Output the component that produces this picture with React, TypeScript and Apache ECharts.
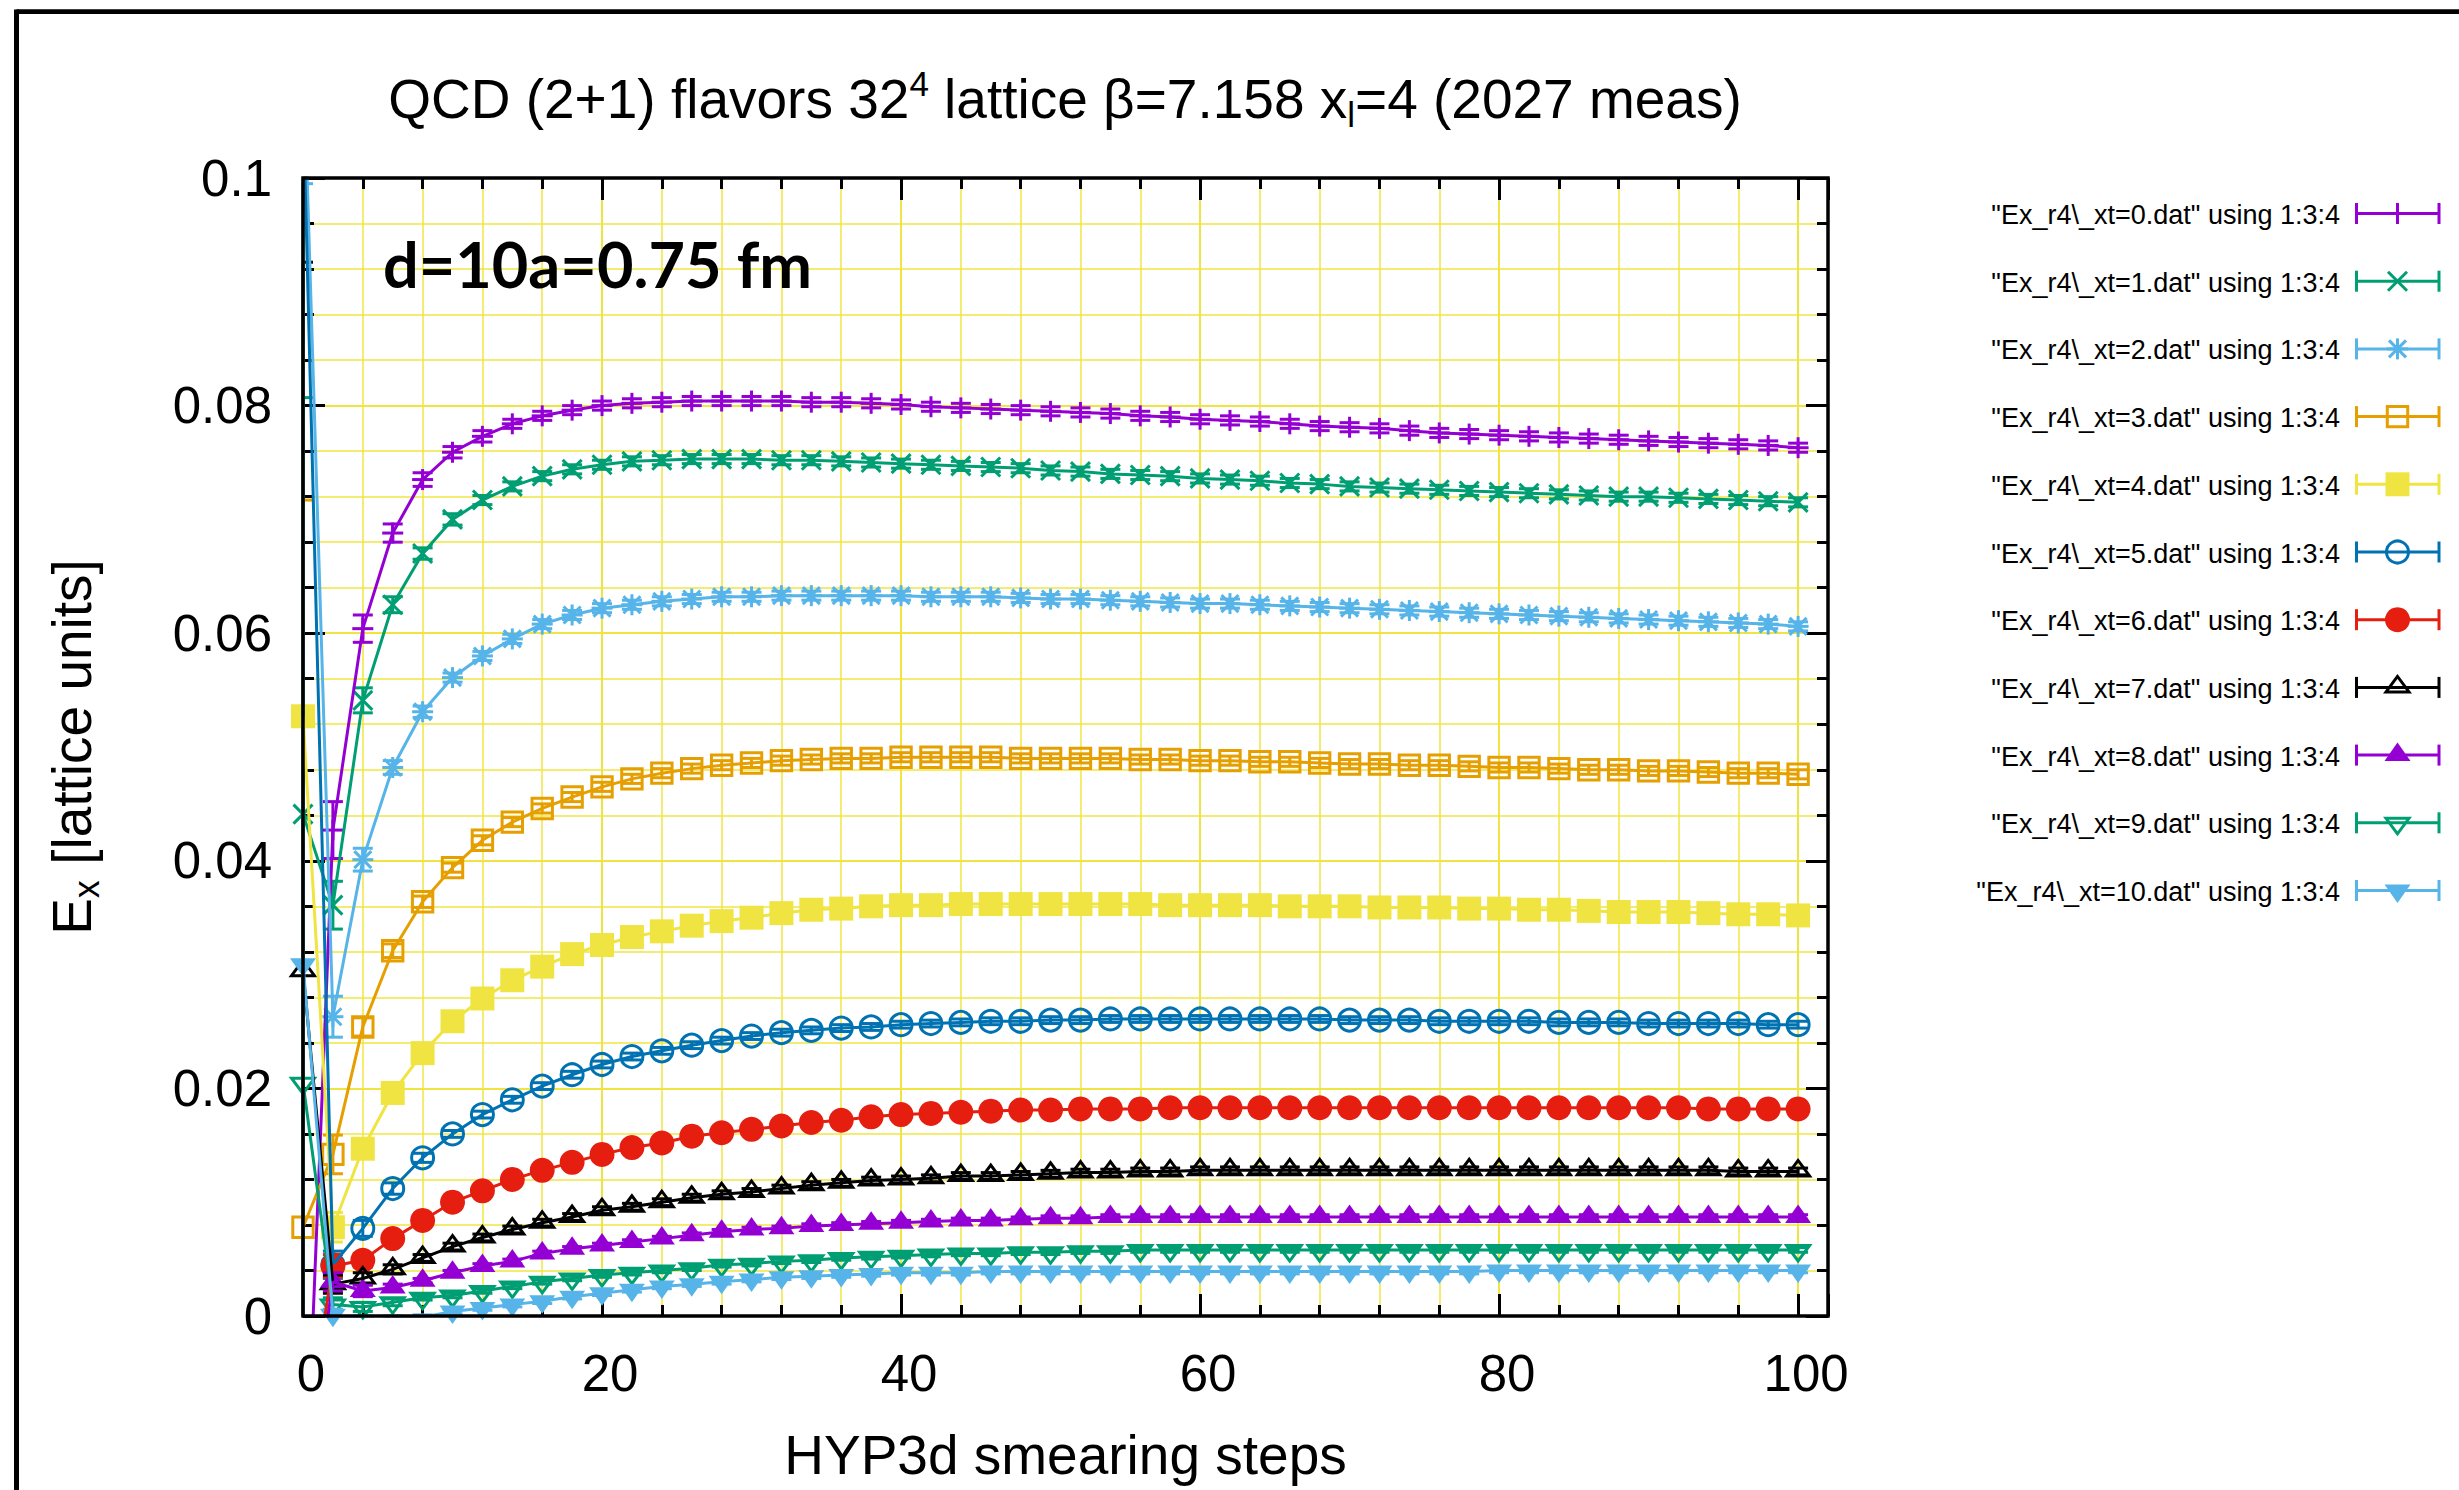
import React, { useEffect, useRef } from "react";
import * as echarts from "echarts";

// ---------------- data ----------------
const STEPS = [
  0, 2, 4, 6, 8, 10, 12, 14, 16, 18,
  20, 22, 24, 26, 28, 30, 32, 34, 36, 38,
  40, 42, 44, 46, 48, 50, 52, 54, 56, 58,
  60, 62, 64, 66, 68, 70, 72, 74, 76, 78,
  80, 82, 84, 86, 88, 90, 92, 94, 96, 98,
  100,
];

const XT0 = [
  -0.022, 0.0427, 0.0604, 0.0688, 0.0735, 0.0759, 0.0773, 0.0784, 0.0791, 0.0796,
  0.08, 0.0802, 0.0803, 0.0804, 0.0804, 0.0804, 0.0804, 0.0803, 0.0803, 0.0802,
  0.0801, 0.0799, 0.0798, 0.0797, 0.0796, 0.0795, 0.0794, 0.0793, 0.0791, 0.079,
  0.0788, 0.0787, 0.0786, 0.0784, 0.0782, 0.0781, 0.078, 0.0778, 0.0776, 0.0775,
  0.0774, 0.0773, 0.0772, 0.0771, 0.077, 0.0769, 0.0768, 0.0767, 0.0766, 0.0765,
  0.0763,
];
const XT1 = [
  0.0441, 0.0361, 0.0541, 0.0625, 0.067, 0.07, 0.0717, 0.0729, 0.0738, 0.0744,
  0.0748, 0.0751, 0.0752, 0.0753, 0.0753, 0.0753, 0.0752, 0.0752, 0.0751, 0.075,
  0.0749, 0.0748, 0.0747, 0.0746, 0.0745, 0.0743, 0.0742, 0.074, 0.0739, 0.0738,
  0.0736, 0.0735, 0.0734, 0.0732, 0.0731, 0.0729, 0.0728, 0.0727, 0.0726, 0.0725,
  0.0724, 0.0723, 0.0722, 0.0721, 0.072, 0.072, 0.0719, 0.0718, 0.0717, 0.0716,
  0.0715,
];
const XT2 = [
  0.112, 0.0263, 0.0401, 0.0482, 0.0531, 0.0561, 0.058, 0.0595, 0.0608, 0.0616,
  0.0622, 0.0625, 0.0628, 0.063, 0.0632, 0.0632, 0.0633, 0.0633, 0.0633, 0.0633,
  0.0633, 0.0632, 0.0632, 0.0632, 0.0631, 0.063, 0.063, 0.0629, 0.0628, 0.0627,
  0.0626, 0.0626, 0.0625, 0.0624, 0.0623, 0.0622, 0.0621, 0.062, 0.0619, 0.0618,
  0.0617, 0.0616, 0.0615, 0.0614, 0.0613, 0.0612, 0.0611, 0.061, 0.0609, 0.0608,
  0.0606,
];
const XT3 = [
  0.0078, 0.0142, 0.0254, 0.0321, 0.0364, 0.0394, 0.0418, 0.0434, 0.0446, 0.0456,
  0.0465, 0.0472, 0.0477, 0.0481, 0.0484, 0.0486, 0.0488, 0.0489, 0.049, 0.049,
  0.0491, 0.0491, 0.0491, 0.0491, 0.049, 0.049, 0.049, 0.049, 0.0489, 0.0489,
  0.0488, 0.0488, 0.0487, 0.0487, 0.0486, 0.0485, 0.0485, 0.0484, 0.0484, 0.0483,
  0.0482, 0.0482, 0.0481, 0.048, 0.048, 0.0479, 0.0479, 0.0478, 0.0477, 0.0477,
  0.0476,
];
const XT4 = [
  0.0527, 0.0078, 0.0147, 0.0196, 0.0231, 0.0259, 0.0279, 0.0295, 0.0307, 0.0318,
  0.0326, 0.0333, 0.0338, 0.0343, 0.0347, 0.035, 0.0354, 0.0357, 0.0358, 0.036,
  0.0361, 0.0361, 0.0362, 0.0362, 0.0362, 0.0362, 0.0362, 0.0362, 0.0362, 0.0361,
  0.0361, 0.0361, 0.0361, 0.036, 0.036, 0.036, 0.0359, 0.0359, 0.0359, 0.0358,
  0.0358, 0.0357, 0.0357, 0.0356, 0.0355, 0.0355, 0.0355, 0.0354, 0.0353, 0.0353,
  0.0352,
];
const XT5 = [
  0.107, 0.0045, 0.0077, 0.0112, 0.0139, 0.016, 0.0177, 0.019, 0.0202, 0.0212,
  0.0221, 0.0228, 0.0233, 0.0238, 0.0242, 0.0246, 0.0249, 0.0251, 0.0253, 0.0254,
  0.0256, 0.0257, 0.0258, 0.0259, 0.0259, 0.026, 0.026, 0.0261, 0.0261, 0.0261,
  0.0261, 0.0261, 0.0261, 0.0261, 0.0261, 0.026, 0.026, 0.026, 0.0259, 0.0259,
  0.0259, 0.0259, 0.0258, 0.0258, 0.0258, 0.0257, 0.0257, 0.0257, 0.0257, 0.0256,
  0.0256,
];
const XT6 = [
  -0.012, 0.0044, 0.0049, 0.0068, 0.0084, 0.01, 0.011, 0.012, 0.0128, 0.0135,
  0.0142, 0.0148, 0.0152, 0.0158, 0.0161, 0.0164, 0.0167, 0.017, 0.0172, 0.0175,
  0.0177, 0.0178, 0.0179, 0.018, 0.0181, 0.0181, 0.0182, 0.0182, 0.0182, 0.0183,
  0.0183, 0.0183, 0.0183, 0.0183, 0.0183, 0.0183, 0.0183, 0.0183, 0.0183, 0.0183,
  0.0183, 0.0183, 0.0183, 0.0183, 0.0183, 0.0183, 0.0183, 0.0182, 0.0182, 0.0182,
  0.0182,
];
const XT7 = [
  0.0303, 0.0028, 0.0033, 0.0041, 0.0051, 0.0061, 0.0069, 0.0076, 0.0082, 0.0087,
  0.0093, 0.0096, 0.01, 0.0104, 0.0107, 0.0109, 0.0112, 0.0115, 0.0117, 0.0119,
  0.012, 0.0121, 0.0123, 0.0123, 0.0124, 0.0125, 0.0126, 0.0126, 0.0127, 0.0127,
  0.0128, 0.0128, 0.0128, 0.0128, 0.0128, 0.0128, 0.0128, 0.0128, 0.0128, 0.0128,
  0.0128, 0.0128, 0.0128, 0.0128, 0.0128, 0.0128, 0.0128, 0.0128, 0.0127, 0.0127,
  0.0127,
];
const XT8 = [
  -0.015, 0.003, 0.0022, 0.0025, 0.0031, 0.0038, 0.0044, 0.0048, 0.0055, 0.0059,
  0.0062, 0.0065, 0.0068, 0.0071, 0.0074, 0.0076, 0.0077, 0.0079, 0.008, 0.0081,
  0.0082, 0.0083, 0.0084, 0.0084, 0.0085, 0.0086, 0.0086, 0.0087, 0.0087, 0.0087,
  0.0087, 0.0087, 0.0087, 0.0087, 0.0087, 0.0087, 0.0087, 0.0087, 0.0087, 0.0087,
  0.0087, 0.0087, 0.0087, 0.0087, 0.0087, 0.0087, 0.0087, 0.0087, 0.0087, 0.0087,
  0.0087,
];
const XT9 = [
  0.0205, 0.001, 0.0008, 0.0012, 0.0016, 0.0018, 0.0022, 0.0026, 0.003, 0.0033,
  0.0036, 0.0038, 0.004, 0.0042, 0.0045, 0.0046, 0.0048, 0.0049, 0.0051, 0.0052,
  0.0053, 0.0054, 0.0055, 0.0055, 0.0056, 0.0056, 0.0057, 0.0057, 0.0058, 0.0058,
  0.0058, 0.0058, 0.0058, 0.0058, 0.0058, 0.0058, 0.0058, 0.0058, 0.0058, 0.0058,
  0.0058, 0.0058, 0.0058, 0.0058, 0.0058, 0.0058, 0.0058, 0.0058, 0.0058, 0.0058,
  0.0058,
];
const XT10 = [
  0.0309, 0.0001, -0.0004, -0.0003, -0.0001, 0.0004, 0.0007, 0.001, 0.0013, 0.0017,
  0.002, 0.0023, 0.0026, 0.0028, 0.003, 0.0032, 0.0034, 0.0035, 0.0036, 0.0037,
  0.0038, 0.0038, 0.0038, 0.0039, 0.0039, 0.0039, 0.0039, 0.0039, 0.0039, 0.0039,
  0.0039, 0.0039, 0.0039, 0.0039, 0.0039, 0.0039, 0.0039, 0.0039, 0.0039, 0.0039,
  0.004, 0.004, 0.004, 0.004, 0.004, 0.004, 0.004, 0.004, 0.004, 0.004,
  0.004,
];

// error bars (column 4)
const ERR0 = [
  0.004, 0.0025, 0.0012, 0.0008, 0.0006, 0.0005, 0.0005, 0.0004, 0.0004, 0.0004,
  0.0004, 0.0004, 0.0004, 0.0004, 0.0004, 0.0004, 0.0004, 0.0004, 0.0004, 0.0004,
  0.0004, 0.0004, 0.0004, 0.0004, 0.0004, 0.0004, 0.0004, 0.0004, 0.0004, 0.0004,
  0.0004, 0.0004, 0.0004, 0.0004, 0.0004, 0.0004, 0.0004, 0.0004, 0.0004, 0.0004,
  0.0004, 0.0004, 0.0004, 0.0004, 0.0004, 0.0004, 0.0004, 0.0004, 0.0004, 0.0004,
  0.0004,
];
const ERR1 = [
  0.06, 0.0021, 0.0011, 0.0007, 0.0005, 0.0005, 0.0004, 0.0004, 0.0004, 0.0004,
  0.0004, 0.0004, 0.0004, 0.0004, 0.0004, 0.0004, 0.0004, 0.0004, 0.0004, 0.0004,
  0.0004, 0.0004, 0.0004, 0.0004, 0.0004, 0.0004, 0.0004, 0.0004, 0.0004, 0.0004,
  0.0004, 0.0004, 0.0004, 0.0004, 0.0004, 0.0004, 0.0004, 0.0004, 0.0004, 0.0004,
  0.0004, 0.0004, 0.0004, 0.0004, 0.0004, 0.0004, 0.0004, 0.0004, 0.0004, 0.0004,
  0.0004,
];
const ERR2 = [
  0.005, 0.0018, 0.001, 0.0006, 0.0005, 0.0004, 0.0004, 0.0004, 0.0004, 0.0004,
  0.0004, 0.0004, 0.0004, 0.0004, 0.0004, 0.0004, 0.0004, 0.0004, 0.0004, 0.0004,
  0.0004, 0.0004, 0.0004, 0.0004, 0.0004, 0.0004, 0.0004, 0.0004, 0.0004, 0.0004,
  0.0004, 0.0004, 0.0004, 0.0004, 0.0004, 0.0004, 0.0004, 0.0004, 0.0004, 0.0004,
  0.0004, 0.0004, 0.0004, 0.0004, 0.0004, 0.0004, 0.0004, 0.0004, 0.0004, 0.0004,
  0.0004,
];
const ERR3 = [
  0.0639, 0.0017, 0.0008, 0.0006, 0.0005, 0.0004, 0.0004, 0.0004, 0.0004, 0.0004,
  0.0004, 0.0004, 0.0004, 0.0004, 0.0004, 0.0004, 0.0004, 0.0004, 0.0004, 0.0004,
  0.0004, 0.0004, 0.0004, 0.0004, 0.0004, 0.0004, 0.0004, 0.0004, 0.0004, 0.0004,
  0.0004, 0.0004, 0.0004, 0.0004, 0.0004, 0.0004, 0.0004, 0.0004, 0.0004, 0.0004,
  0.0004, 0.0004, 0.0004, 0.0004, 0.0004, 0.0004, 0.0004, 0.0004, 0.0004, 0.0004,
  0.0004,
];
const ERR4 = [
  0.06, 0.0013, 0.0007, 0.0005, 0.0004, 0.0003, 0.0003, 0.0003, 0.0003, 0.0003,
  0.0003, 0.0003, 0.0003, 0.0003, 0.0003, 0.0003, 0.0003, 0.0003, 0.0003, 0.0003,
  0.0003, 0.0003, 0.0003, 0.0003, 0.0003, 0.0003, 0.0003, 0.0003, 0.0003, 0.0003,
  0.0003, 0.0003, 0.0003, 0.0003, 0.0003, 0.0003, 0.0003, 0.0003, 0.0003, 0.0003,
  0.0003, 0.0003, 0.0003, 0.0003, 0.0003, 0.0003, 0.0003, 0.0003, 0.0003, 0.0003,
  0.0003,
];
const ERR5 = [
  0.005, 0.0012, 0.0007, 0.0005, 0.0004, 0.0003, 0.0003, 0.0003, 0.0003, 0.0003,
  0.0003, 0.0003, 0.0003, 0.0003, 0.0003, 0.0003, 0.0003, 0.0003, 0.0003, 0.0003,
  0.0003, 0.0003, 0.0003, 0.0003, 0.0003, 0.0003, 0.0003, 0.0003, 0.0003, 0.0003,
  0.0003, 0.0003, 0.0003, 0.0003, 0.0003, 0.0003, 0.0003, 0.0003, 0.0003, 0.0003,
  0.0003, 0.0003, 0.0003, 0.0003, 0.0003, 0.0003, 0.0003, 0.0003, 0.0003, 0.0003,
  0.0003,
];
const ERR6 = [
  0.004, 0.001, 0.0006, 0.0004, 0.0003, 0.0003, 0.0003, 0.0003, 0.0003, 0.0003,
  0.0003, 0.0003, 0.0003, 0.0003, 0.0003, 0.0003, 0.0003, 0.0003, 0.0003, 0.0003,
  0.0003, 0.0003, 0.0003, 0.0003, 0.0003, 0.0003, 0.0003, 0.0003, 0.0003, 0.0003,
  0.0003, 0.0003, 0.0003, 0.0003, 0.0003, 0.0003, 0.0003, 0.0003, 0.0003, 0.0003,
  0.0003, 0.0003, 0.0003, 0.0003, 0.0003, 0.0003, 0.0003, 0.0003, 0.0003, 0.0003,
  0.0003,
];
const ERR7 = [
  0.0623, 0.0008, 0.0005, 0.0004, 0.0003, 0.0003, 0.0003, 0.0003, 0.0003, 0.0003,
  0.0003, 0.0003, 0.0003, 0.0003, 0.0003, 0.0003, 0.0003, 0.0003, 0.0003, 0.0003,
  0.0003, 0.0003, 0.0003, 0.0003, 0.0003, 0.0003, 0.0003, 0.0003, 0.0003, 0.0003,
  0.0003, 0.0003, 0.0003, 0.0003, 0.0003, 0.0003, 0.0003, 0.0003, 0.0003, 0.0003,
  0.0003, 0.0003, 0.0003, 0.0003, 0.0003, 0.0003, 0.0003, 0.0003, 0.0003, 0.0003,
  0.0003,
];
const ERR8 = [
  0.004, 0.0008, 0.0005, 0.0003, 0.0002, 0.0002, 0.0002, 0.0002, 0.0002, 0.0002,
  0.0002, 0.0002, 0.0002, 0.0002, 0.0002, 0.0002, 0.0002, 0.0002, 0.0002, 0.0002,
  0.0002, 0.0002, 0.0002, 0.0002, 0.0002, 0.0002, 0.0002, 0.0002, 0.0002, 0.0002,
  0.0002, 0.0002, 0.0002, 0.0002, 0.0002, 0.0002, 0.0002, 0.0002, 0.0002, 0.0002,
  0.0002, 0.0002, 0.0002, 0.0002, 0.0002, 0.0002, 0.0002, 0.0002, 0.0002, 0.0002,
  0.0002,
];
const ERR9 = [
  0.0602, 0.0006, 0.0004, 0.0003, 0.0002, 0.0002, 0.0002, 0.0002, 0.0002, 0.0002,
  0.0002, 0.0002, 0.0002, 0.0002, 0.0002, 0.0002, 0.0002, 0.0002, 0.0002, 0.0002,
  0.0002, 0.0002, 0.0002, 0.0002, 0.0002, 0.0002, 0.0002, 0.0002, 0.0002, 0.0002,
  0.0002, 0.0002, 0.0002, 0.0002, 0.0002, 0.0002, 0.0002, 0.0002, 0.0002, 0.0002,
  0.0002, 0.0002, 0.0002, 0.0002, 0.0002, 0.0002, 0.0002, 0.0002, 0.0002, 0.0002,
  0.0002,
];
const ERR10 = [
  0.0686, 0.0005, 0.0004, 0.0003, 0.0002, 0.0002, 0.0002, 0.0002, 0.0002, 0.0002,
  0.0002, 0.0002, 0.0002, 0.0002, 0.0002, 0.0002, 0.0002, 0.0002, 0.0002, 0.0002,
  0.0002, 0.0002, 0.0002, 0.0002, 0.0002, 0.0002, 0.0002, 0.0002, 0.0002, 0.0002,
  0.0002, 0.0002, 0.0002, 0.0002, 0.0002, 0.0002, 0.0002, 0.0002, 0.0002, 0.0002,
  0.0002, 0.0002, 0.0002, 0.0002, 0.0002, 0.0002, 0.0002, 0.0002, 0.0002, 0.0002,
  0.0002,
];

const SERIES_NAMES = [
  '"Ex_r4\\_xt=0.dat" using 1:3:4',
  '"Ex_r4\\_xt=1.dat" using 1:3:4',
  '"Ex_r4\\_xt=2.dat" using 1:3:4',
  '"Ex_r4\\_xt=3.dat" using 1:3:4',
  '"Ex_r4\\_xt=4.dat" using 1:3:4',
  '"Ex_r4\\_xt=5.dat" using 1:3:4',
  '"Ex_r4\\_xt=6.dat" using 1:3:4',
  '"Ex_r4\\_xt=7.dat" using 1:3:4',
  '"Ex_r4\\_xt=8.dat" using 1:3:4',
  '"Ex_r4\\_xt=9.dat" using 1:3:4',
  '"Ex_r4\\_xt=10.dat" using 1:3:4',
];
const COLORS = [
  "#9400D3", "#009E73", "#56B4E9", "#E69F00", "#F0E442", "#0072B2",
  "#E51E10", "#000000", "#9400D3", "#009E73", "#56B4E9",
];
const MARKERS = ["plus", "cross", "star", "sq", "sqf", "ci", "cif", "tri", "trif", "itri", "itrif"];
const X_TICK_LABELS = [0, 20, 40, 60, 80, 100];

const VALUES = [XT0, XT1, XT2, XT3, XT4, XT5, XT6, XT7, XT8, XT9, XT10];
const ERRORS = [ERR0, ERR1, ERR2, ERR3, ERR4, ERR5, ERR6, ERR7, ERR8, ERR9, ERR10];

// ---------------- styling ----------------
const FONT = '"Liberation Sans", Arial, Helvetica, sans-serif';
const GRID_COLOR = "#F0E442";
const PLOT = { left: 303, top: 178, width: 1525, height: 1138 };
const LW = 3;

function markerEls(kind: string, cx: number, cy: number, c: string): any[] {
  const ln = (x1: number, y1: number, x2: number, y2: number) => ({
    type: "line",
    shape: { x1, y1, x2, y2 },
    style: { stroke: c, lineWidth: LW },
  });
  const open = () => ({ stroke: c, lineWidth: LW, fill: "none" });
  switch (kind) {
    case "plus":
      return [ln(cx - 10.5, cy, cx + 10.5, cy), ln(cx, cy - 10.5, cx, cy + 10.5)];
    case "cross":
      return [ln(cx - 9.5, cy - 9.5, cx + 9.5, cy + 9.5), ln(cx - 9.5, cy + 9.5, cx + 9.5, cy - 9.5)];
    case "star":
      return [
        ln(cx - 10.5, cy, cx + 10.5, cy),
        ln(cx, cy - 10.5, cx, cy + 10.5),
        ln(cx - 8.5, cy - 8.5, cx + 8.5, cy + 8.5),
        ln(cx - 8.5, cy + 8.5, cx + 8.5, cy - 8.5),
      ];
    case "sq":
      return [{ type: "rect", shape: { x: cx - 10.2, y: cy - 10.2, width: 20.4, height: 20.4 }, style: open() }];
    case "sqf":
      return [{ type: "rect", shape: { x: cx - 12, y: cy - 12, width: 24, height: 24 }, style: { fill: c } }];
    case "ci":
      return [{ type: "circle", shape: { cx, cy, r: 11 }, style: open() }];
    case "cif":
      return [{ type: "circle", shape: { cx, cy, r: 12.5 }, style: { fill: c } }];
    case "tri":
      return [{ type: "polygon", shape: { points: [[cx, cy - 11], [cx - 11.5, cy + 4.5], [cx + 11.5, cy + 4.5]] }, style: open() }];
    case "trif":
      return [{ type: "polygon", shape: { points: [[cx, cy - 12.5], [cx - 13, cy + 6], [cx + 13, cy + 6]] }, style: { fill: c } }];
    case "itri":
      return [{ type: "polygon", shape: { points: [[cx, cy + 11], [cx - 11.5, cy - 4.5], [cx + 11.5, cy - 4.5]] }, style: open() }];
    case "itrif":
      return [{ type: "polygon", shape: { points: [[cx, cy + 12.5], [cx - 13, cy - 6], [cx + 13, cy - 6]] }, style: { fill: c } }];
    default:
      return [];
  }
}

function makeRender(kind: string, color: string) {
  return (params: any, api: any) => {
    const cs = params.coordSys;
    const L = cs.x, R = cs.x + cs.width, T = cs.y, B = cs.y + cs.height;
    const x = api.value(0), y = api.value(1), e = api.value(2);
    const p = api.coord([x, y]);
    const hi = api.coord([x, y + e])[1];
    const lo = api.coord([x, y - e])[1];
    const kids: any[] = [];
    const ya = Math.max(hi, T), yb = Math.min(lo, B);
    if (yb > ya) {
      kids.push({ type: "line", shape: { x1: p[0], y1: ya, x2: p[0], y2: yb }, style: { stroke: color, lineWidth: LW } });
    }
    const xa = Math.max(p[0] - 10, L), xb = Math.min(p[0] + 10, R);
    [hi, lo].forEach((cy) => {
      if (cy >= T && cy <= B) {
        kids.push({ type: "line", shape: { x1: xa, y1: cy, x2: xb, y2: cy }, style: { stroke: color, lineWidth: LW } });
      }
    });
    if (p[1] >= T - 0.5 && p[1] <= B + 0.5) kids.push(...markerEls(kind, p[0], p[1], color));
    return { type: "group", children: kids };
  };
}

function tickAxis(dim: "x" | "y", position: string, interval: number, len: number, extra: any = {}) {
  const base: any = {
    type: "value",
    position,
    min: 0,
    max: dim === "x" ? 102 : 0.1,
    interval,
    axisLine: { show: false, onZero: false },
    axisTick: { show: true, inside: true, length: len, lineStyle: { color: "#000", width: 3 } },
    axisLabel: { show: false },
    splitLine: { show: false },
    z: 0,
  };
  return { ...base, ...extra };
}

function buildOption(): any {
  const series: any[] = [];
  VALUES.forEach((vals, i) => {
    series.push({
      type: "line",
      name: SERIES_NAMES[i],
      xAxisIndex: 0,
      yAxisIndex: 0,
      data: STEPS.map((x, k) => [x, vals[k]]),
      showSymbol: false,
      symbol: "none",
      clip: true,
      silent: true,
      lineStyle: { color: COLORS[i], width: LW },
      itemStyle: { color: COLORS[i] },
      emphasis: { disabled: true },
      z: 2,
    });
    series.push({
      type: "custom",
      name: SERIES_NAMES[i] + " errors",
      xAxisIndex: 0,
      yAxisIndex: 0,
      data: STEPS.map((x, k) => [x, vals[k], ERRORS[i][k] ?? 0]),
      encode: { x: 0, y: 1 },
      clip: false,
      silent: true,
      renderItem: makeRender(MARKERS[i], COLORS[i]),
      z: 2,
    });
  });

  // legend drawn with graphic elements
  const legendEls: any[] = [];
  SERIES_NAMES.forEach((name, i) => {
    const yl = 213.5 + 67.7 * i;
    const c = COLORS[i];
    legendEls.push({
      type: "text",
      x: 2340,
      y: yl + 1.5,
      style: { text: name, fontFamily: FONT, fontSize: 27, fill: "#000", align: "right", verticalAlign: "middle" },
    });
    legendEls.push({ type: "line", shape: { x1: 2356.5, y1: yl, x2: 2439, y2: yl }, style: { stroke: c, lineWidth: LW } });
    legendEls.push({ type: "line", shape: { x1: 2356.5, y1: yl - 10.5, x2: 2356.5, y2: yl + 10.5 }, style: { stroke: c, lineWidth: LW } });
    legendEls.push({ type: "line", shape: { x1: 2439, y1: yl - 10.5, x2: 2439, y2: yl + 10.5 }, style: { stroke: c, lineWidth: LW } });
    markerEls(MARKERS[i], 2397.5, yl, c).forEach((m) => legendEls.push(m));
  });

  return {
    animation: false,
    backgroundColor: "#fff",
    grid: { ...PLOT, containLabel: false, outerBoundsMode: "none" },
    xAxis: [
      tickAxis("x", "bottom", 4, 11, { splitLine: { show: true, lineStyle: { color: GRID_COLOR, width: 1.5 } } }),
      tickAxis("x", "bottom", 20, 22, {
        splitLine: { show: true, lineStyle: { color: GRID_COLOR, width: 2 } },
        axisLabel: {
          show: true,
          margin: 32,
          fontFamily: FONT,
          fontSize: 51,
          color: "#000",
          padding: [0, 0, 0, 16],
          formatter: (v: number) => (X_TICK_LABELS.indexOf(Math.round(v)) >= 0 && Math.abs(v - Math.round(v)) < 1e-9 ? String(Math.round(v)) : ""),
        },
        name: "HYP3d smearing steps",
        nameLocation: "middle",
        nameGap: 107,
        nameTextStyle: { fontFamily: FONT, fontSize: 55, color: "#000", lineHeight: 64 },
      }),
      tickAxis("x", "top", 4, 11),
      tickAxis("x", "top", 20, 22),
    ],
    yAxis: [
      tickAxis("y", "left", 0.004, 11, { splitLine: { show: true, lineStyle: { color: GRID_COLOR, width: 1.5 } } }),
      tickAxis("y", "left", 0.02, 22, {
        splitLine: { show: true, lineStyle: { color: GRID_COLOR, width: 2 } },
        axisLabel: { show: true, margin: 31, fontFamily: FONT, fontSize: 51, color: "#000" },
        name: "{a|E}{s|x}{a| [lattice units]}",
        nameLocation: "middle",
        nameRotate: 90,
        nameGap: 199,
        nameTextStyle: {
          color: "#000",
          rich: {
            a: { fontFamily: FONT, fontSize: 55, lineHeight: 64, color: "#000" },
            s: { fontFamily: FONT, fontSize: 36, lineHeight: 26, verticalAlign: "bottom", color: "#000" },
          },
        },
      }),
      tickAxis("y", "right", 0.004, 11),
      tickAxis("y", "right", 0.02, 22),
    ],
    series,
    graphic: {
      elements: [
        // outer page frame
        { type: "line", shape: { x1: 16.5, y1: 11.7, x2: 2459, y2: 11.7 }, style: { stroke: "#000", lineWidth: 4.7 }, z: 100 },
        { type: "line", shape: { x1: 16.5, y1: 9.4, x2: 16.5, y2: 1490 }, style: { stroke: "#000", lineWidth: 5 }, z: 100 },
        // plot border
        {
          type: "rect",
          shape: { x: PLOT.left, y: PLOT.top, width: PLOT.width, height: PLOT.height },
          style: { stroke: "#000", fill: "none", lineWidth: 3.5 },
          z: 100,
        },
        // title
        {
          type: "text",
          x: 1065,
          y: 99,
          z: 100,
          style: {
            text: "{a|QCD (2+1) flavors 32}{p|4}{a| lattice β=7.158 x}{b|l}{a|=4 (2027 meas)}",
            align: "center",
            verticalAlign: "middle",
            fill: "#000",
            rich: {
              a: { fontFamily: FONT, fontSize: 55, lineHeight: 66, fill: "#000" },
              p: { fontFamily: FONT, fontSize: 35, lineHeight: 26, verticalAlign: "top", fill: "#000" },
              b: { fontFamily: FONT, fontSize: 35, lineHeight: 26, verticalAlign: "bottom", fill: "#000" },
            },
          },
        },
        // annotation
        {
          type: "text",
          x: 383,
          y: 263,
          z: 100,
          style: {
            text: "d=10a=0.75 fm",
            fontFamily: "Lato",
            fontWeight: "bold",
            fontSize: 63,
            fill: "#000",
            align: "left",
            verticalAlign: "middle",
          },
        },
        ...legendEls.map((e) => ({ ...e, z: 50 })),
      ],
    },
  };
}

export default function App() {
  const ref = useRef<HTMLDivElement>(null);
  useEffect(() => {
    if (!ref.current) return;
    const chart = echarts.init(ref.current, null, { renderer: "svg" });
    chart.setOption(buildOption());
    return () => chart.dispose();
  }, []);
  return (
    <div
      ref={ref}
      style={{ position: "fixed", left: 0, top: 0, width: 2459, height: 1490, background: "#fff" }}
    />
  );
}
